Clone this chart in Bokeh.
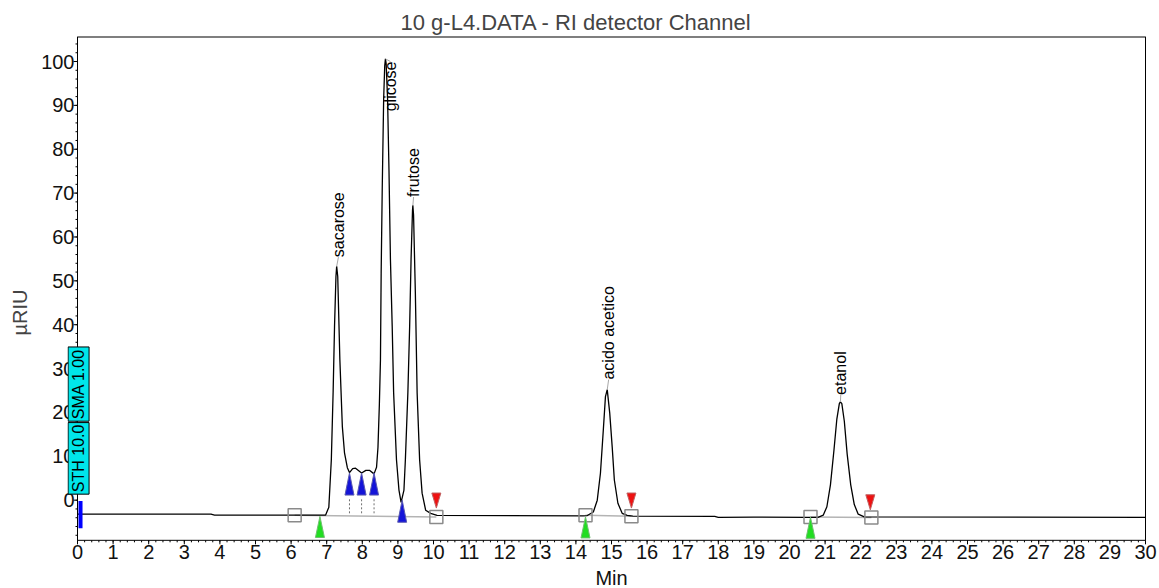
import numpy as np
from bokeh.plotting import figure
from bokeh.models import Label, FixedTicker
from bokeh.core.properties import value
from bokeh.embed import file_html
from bokeh.resources import INLINE

# ---------------- data ----------------
time_min = [0.0, 3.75, 3.85, 6.10, 6.97, 7.06, 7.13, 7.18, 7.22, 7.26, 7.28, 7.31,
            7.37, 7.44, 7.50, 7.58, 7.64, 7.73, 7.81, 7.98, 8.10, 8.20, 8.33, 8.40,
            8.44, 8.48, 8.51, 8.53, 8.56, 8.60, 8.63, 8.65, 8.67, 8.71, 8.75, 8.79,
            8.84, 8.88, 8.96, 9.03, 9.09, 9.17, 9.21, 9.28, 9.33, 9.37, 9.41, 9.42,
            9.44, 9.49, 9.54, 9.61, 9.68, 9.78, 9.92, 10.10, 14.20, 14.32, 14.49,
            14.60, 14.69, 14.77, 14.83, 14.88, 14.95, 15.02, 15.08, 15.18, 15.30,
            15.44, 15.60, 17.90, 18.00, 19.00, 20.50, 20.80, 20.95, 21.05, 21.15,
            21.25, 21.33, 21.40, 21.43, 21.47, 21.54, 21.62, 21.72, 21.82, 21.93,
            22.10, 30.0]
signal_uriu = [-3.2, -3.2, -3.4, -3.4, -3.4, -1.6, 9.2, 24.5, 39.6, 51.0, 53.3, 51.0,
               32.0, 16.7, 10.8, 7.4, 6.3, 7.2, 7.3, 6.2, 6.8, 6.8, 6.0, 7.5,
               12.0, 22.0, 32.0, 52.0, 71.0, 91.5, 99.0, 100.6, 99.5, 91.5, 75.0, 55.0,
               39.6, 24.5, 9.2, 2.3, -0.5, 2.3, 9.2, 24.5, 39.6, 55.0, 66.0, 67.2,
               65.0, 47.4, 24.5, 9.2, 1.6, -2.3, -3.0, -3.45, -3.6, -3.5, -2.7,
               0.0, 6.2, 16.0, 23.6, 25.2, 19.9, 12.1, 4.6, -0.7, -3.0,
               -3.45, -3.65, -3.7, -3.9, -3.85, -3.9, -3.9, -3.4, -1.5, 3.5,
               11.5, 18.5, 22.0, 22.4, 22.0, 18.0, 10.5, 3.5, -1.0, -3.2,
               -3.8, -3.9]

peak_names = ["sacarose", "glicose", "frutose", "acido acetico", "etanol"]
peak_t = [7.28, 8.65, 9.42, 14.88, 21.43]
peak_v = [53.3, 100.6, 67.2, 25.2, 22.4]
label_t = [7.33, 8.79, 9.44, 14.92, 21.44]
label_v = [55.4, 100.0, 69.1, 27.5, 24.0]

# integration start/end boxes
box_t = [6.10, 10.08, 14.27, 15.56, 20.59, 22.30]
box_v = [-3.43, -3.82, -3.43, -3.66, -3.82, -3.96]

# event markers
blue_t = [7.64, 7.98, 8.33, 9.12]
blue_v = [6.2, 6.2, 6.2, 0.0]
green_t = [6.81, 14.27, 20.59]
green_v = [-3.7, -3.8, -3.9]
red_t = [10.08, 15.56, 22.27]
red_v = [-1.8, -1.8, -2.2]

x_ticks = list(range(0, 31))
x_tick_labels = [str(t) for t in x_ticks]
y_ticks = list(range(0, 101, 10))
x_minor = [round(0.2 * i, 2) for i in range(0, 151)]
y_minor = list(range(-8, 106, 2))

FONT = "Liberation Sans"
XS = 1 / 35.6   # minutes per pixel
YS = 1 / 4.37   # uRIU per pixel
XL, XR = 0.0, 30.0             # plot box left / right
X0, X1 = XL - 10 * XS, XR + 14 * XS   # canvas edges
YB, Y1 = -9.15, 105.7          # plot box bottom / top
Y0 = YB - 48 * YS              # canvas bottom (room for x labels)

p = figure(width=1159, height=588, x_range=(X0, X1), y_range=(Y0, Y1),
           output_backend="svg", toolbar_location=None,
           title="10 g-L4.DATA - RI detector Channel")
p.min_border_left = 67
p.min_border_right = 0
p.min_border_top = 36
p.min_border_bottom = 0
p.xgrid.visible = False
p.ygrid.visible = False
p.outline_line_color = None
p.background_fill_color = "white"
p.xaxis.visible = False

p.title.text_font = FONT
p.title.text_font_size = "22px"
p.title.text_font_style = "normal"
p.title.align = "left"
p.title.offset = 333
p.title.standoff = 4

ya = p.yaxis[0]
ya.ticker = FixedTicker(ticks=y_ticks, minor_ticks=y_minor)
ya.major_label_text_font = FONT
ya.major_label_text_font_size = "20px"
ya.major_label_text_color = "#111111"
ya.axis_line_color = None
ya.major_tick_line_color = None
ya.minor_tick_line_color = None
ya.major_tick_out = 0
ya.major_tick_in = 0
ya.minor_tick_out = 0
ya.minor_tick_in = 0
ya.major_label_standoff = -7
ya.axis_label = "µRIU"
ya.axis_label_text_font = FONT
ya.axis_label_text_font_size = "20px"
ya.axis_label_text_font_style = "normal"
ya.axis_label_standoff = 7

# plot box: y axis line at t = 0, top, right and bottom lines
p.segment(x0=[XL, XL, XR, XL], y0=[YB, Y1, YB, YB], x1=[XL, XR, XR, XR], y1=[Y1, Y1, Y1, YB],
          line_color="black", line_width=[1, 2, 1, 1])

# y ticks (outward)
p.segment(x0=[-4 * XS] * len(y_ticks), y0=y_ticks, x1=[0] * len(y_ticks), y1=y_ticks,
          line_color="black", line_width=1)
p.segment(x0=[-2 * XS] * len(y_minor), y0=y_minor, x1=[0] * len(y_minor), y1=y_minor,
          line_color="black", line_width=1)
# x ticks (outward) and labels
p.segment(x0=x_ticks, y0=[YB] * len(x_ticks), x1=x_ticks, y1=[YB - 4 * YS] * len(x_ticks),
          line_color="black", line_width=1)
p.segment(x0=x_minor, y0=[YB] * len(x_minor), x1=x_minor, y1=[YB - 2 * YS] * len(x_minor),
          line_color="black", line_width=1)
p.text(x=x_ticks, y=[YB - 5 * YS] * len(x_ticks), text=x_tick_labels,
       text_align="center", text_baseline="top", text_font=value(FONT),
       text_font_size="20px", text_color="#111111")
p.text(x=[15.0], y=[YB - 38 * YS], text=["Min"], text_align="center",
       text_baseline="middle", text_font=value(FONT), text_font_size="20px",
       text_color="#111111")

# integration baselines (light gray)
p.segment(x0=box_t[0::2], y0=box_v[0::2], x1=box_t[1::2], y1=box_v[1::2],
          line_color="#b4b4b4", line_width=1.5)

# chromatogram
p.line(time_min, signal_uriu, line_color="black", line_width=1.3)

# leader lines from peaks to labels
p.segment(x0=peak_t, y0=peak_v, x1=label_t, y1=label_v, line_color="#a8a8a8", line_width=1)

# dashed drop lines below split markers
drop_t = blue_t[:3]
p.segment(x0=drop_t, y0=[0.2] * 3, x1=drop_t, y1=[-3.4] * 3,
          line_color="#707070", line_width=1, line_dash="2 2")

# integration boxes
p.scatter(box_t, box_v, marker="square", size=13, fill_alpha=0,
          line_color="#8a8a8a", line_width=1.5)

def up_tri(ts, vs, hw, h):
    xs = [[t - hw * XS, t, t + hw * XS] for t in ts]
    ys = [[v - h * YS, v, v - h * YS] for v in vs]
    return xs, ys

def down_tri(ts, vs, hw, h):
    xs = [[t - hw * XS, t, t + hw * XS] for t in ts]
    ys = [[v + h * YS, v, v + h * YS] for v in vs]
    return xs, ys

bx, by = up_tri(blue_t, blue_v, 4.5, 22)
p.patches(bx, by, fill_color="#1414d8", line_color="#5a5ab0", line_width=1)
gx, gy = up_tri(green_t, green_v, 4.5, 21)
p.patches(gx, gy, fill_color="#22dd22", line_color="#70c070", line_width=1)
rx, ry = down_tri(red_t, red_v, 4.5, 15)
p.patches(rx, ry, fill_color="#ee1111", line_color="#c06060", line_width=1)

# start marker bar
p.segment(x0=[0.085], y0=[-0.2], x1=[0.085], y1=[-6.4], line_color="#0000ff", line_width=4)

# peak labels
for name, t, v in zip(peak_names, label_t, label_v):
    p.add_layout(Label(x=t, y=v, text=name, angle=np.pi / 2,
                       text_align="right" if name == "glicose" else "left",
                       text_baseline="middle", text_font=FONT, text_font_size="16px",
                       text_color="black"))

# cyan parameter boxes
for txt, yy in (("STH 10.0", 1.37), ("SMA 1.00", 18.0)):
    p.add_layout(Label(x=0.03, y=yy, text=txt, angle=np.pi / 2, text_align="left",
                       text_baseline="middle", text_font=FONT, text_font_size="16px",
                       text_color="black", background_fill_color="#00e6ea",
                       border_line_color="black", border_line_width=1, padding=2))

open("out.html", "w").write(file_html(p, INLINE))
